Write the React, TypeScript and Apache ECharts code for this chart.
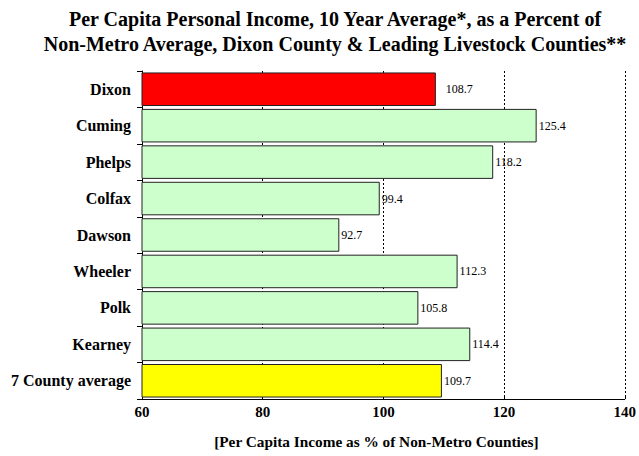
import React, { useEffect, useRef } from "react";
import * as echarts from "echarts";

const categories = ["Dixon", "Cuming", "Phelps", "Colfax", "Dawson", "Wheeler", "Polk", "Kearney", "7 County average"];
const values = [108.7, 125.4, 118.2, 99.4, 92.7, 112.3, 105.8, 114.4, 109.7];
const barColors = ["#FF0000", "#CCFFCC", "#CCFFCC", "#CCFFCC", "#CCFFCC", "#CCFFCC", "#CCFFCC", "#CCFFCC", "#FFFF00"];
const labelDistances = [10, 2, 2, 2, 2, 2, 2, 2, 2];
const titleText = "Per Capita Personal Income, 10 Year Average*, as a Percent of\nNon-Metro Average, Dixon County & Leading Livestock Counties**";
const xAxisName = "[Per Capita Income as % of Non-Metro Counties]";

const FONT = "Liberation Serif";

export default function App() {
  const ref = useRef<HTMLDivElement>(null);
  useEffect(() => {
    document.body.style.margin = "0";
    const chart = echarts.init(ref.current!, null, { renderer: "svg" });
    chart.setOption({
      animation: false,
      backgroundColor: "#ffffff",
      title: {
        text: titleText,
        left: 335,
        top: 6,
        padding: 0,
        textAlign: "center",
        textStyle: { fontFamily: FONT, fontWeight: "bold", fontSize: 20, color: "#000", lineHeight: 25 },
      },
      grid: { left: 142, right: 13, top: 71, bottom: 57, containLabel: false },
      xAxis: {
        type: "value",
        min: 60,
        max: 140,
        interval: 20,
        name: xAxisName,
        nameLocation: "middle",
        nameGap: 35,
        nameTextStyle: { fontFamily: FONT, fontWeight: "bold", fontSize: 15.3, color: "#000", padding: [0, 14, 0, 0] },
        axisLine: { show: true, lineStyle: { color: "#000", width: 1 } },
        axisTick: { show: true, inside: true, length: 4, lineStyle: { color: "#000" } },
        axisLabel: { fontFamily: FONT, fontWeight: "bold", fontSize: 15, color: "#000", margin: 5 },
        splitLine: { show: true, lineStyle: { color: "#000", type: [2, 2], width: 1 } },
      },
      yAxis: {
        type: "category",
        data: categories,
        inverse: true,
        axisLine: { show: true, lineStyle: { color: "#000", width: 1 } },
        axisTick: { show: true, length: 5, lineStyle: { color: "#000" } },
        axisLabel: { fontFamily: FONT, fontWeight: "bold", fontSize: 16, color: "#000", margin: 11 },
      },
      series: [
        {
          type: "bar",
          barCategoryGap: "8%",
          data: values.map((v, i) => ({
            value: v,
            itemStyle: { color: barColors[i], borderColor: "#222", borderWidth: 1 },
            label: { distance: labelDistances[i] },
          })),
          label: {
            show: true,
            position: "right",
            fontFamily: FONT,
            fontSize: 12,
            color: "#000",
            formatter: (p: any) => p.value.toFixed(1),
          },
        },
      ],
    });
    return () => chart.dispose();
  }, []);
  return <div ref={ref} style={{ position: "absolute", left: 0, top: 0, width: 639, height: 456 }} />;
}
